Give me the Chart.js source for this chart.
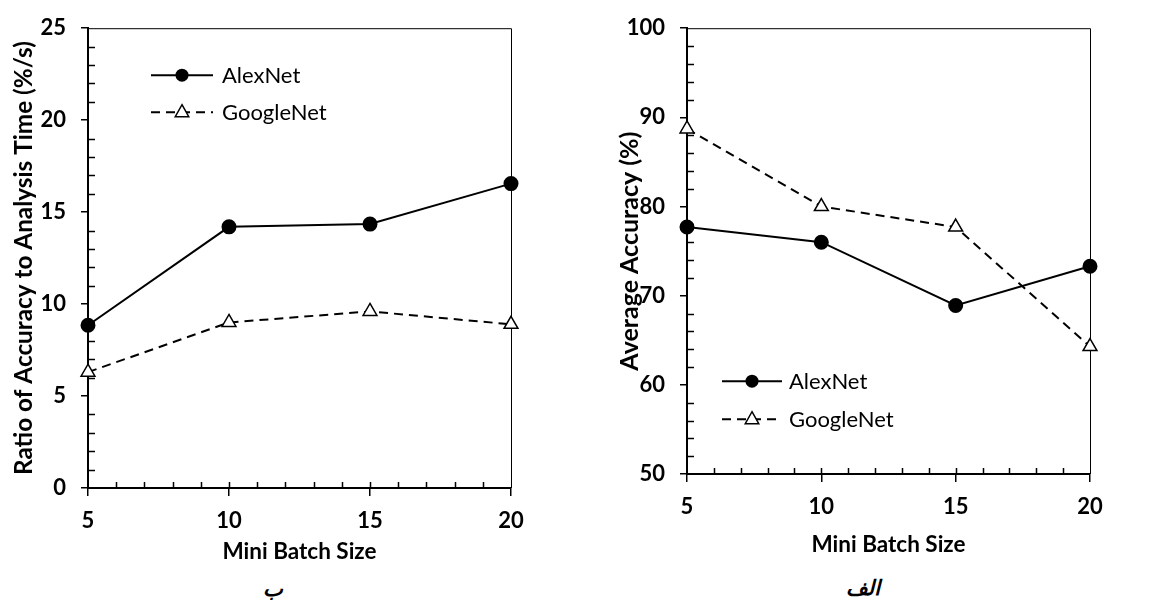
<!DOCTYPE html>
<html>
<head>
<meta charset="utf-8">
<script src="https://cdn.jsdelivr.net/npm/chart.js@4.4.1/dist/chart.umd.min.js"></script>
<style>
  html, body { margin: 0; padding: 0; background: #fff; }
  body { width: 1167px; height: 601px; position: relative; overflow: hidden; }
  .box { position: absolute; top: 0; }
  .cap { position: absolute; font-family: 'DejaVu Sans', sans-serif; font-style: italic; font-weight: bold; font-size: 21px; color: #000; transform: translateX(-50%); }
</style>
</head>
<body>
<div class="box" id="boxRatio" style="left:0;width:540px;height:570px"><canvas id="chartRatio"></canvas></div>
<div class="box" id="boxAcc" style="left:590px;width:540px;height:560px"><canvas id="chartAcc"></canvas></div>
<div class="cap" style="left:273px;top:577px">ب</div>
<div class="cap" style="left:863px;top:576px">الف</div>
<script>
// data
const batchSizes = [5, 10, 15, 20];
const seriesNames = ['AlexNet', 'GoogleNet'];
const ratioAlexNet = [8.85, 14.2, 14.35, 16.55];
const ratioGoogleNet = [6.3, 9.0, 9.6, 8.9];
const accAlexNet = [77.7, 76.0, 68.9, 73.3];
const accGoogleNet = [88.7, 80.0, 77.7, 64.3];

const FONT = 'Lato, "Open Sans", sans-serif';

function toPoints(values) {
    return batchSizes.map((b, i) => ({ x: b, y: values[i] }));
}

// minor ticks (inside) and the thin top/right frame
const frameTicks = {
    id: 'frameTicks',
    beforeDatasetsDraw(chart, args, opts) {
        const { ctx, chartArea: a, scales: { x, y } } = chart;
        ctx.save();
        ctx.strokeStyle = '#000';
        ctx.lineWidth = 1;
        ctx.beginPath();
        ctx.moveTo(a.left, a.top + 0.5);
        ctx.lineTo(a.right + 0.5, a.top + 0.5);
        ctx.lineTo(a.right + 0.5, a.bottom);
        ctx.stroke();
        ctx.lineWidth = 1.5;
        ctx.beginPath();
        for (let v = x.min + opts.xStep; v < x.max; v += opts.xStep) {
            const px = Math.round(x.getPixelForValue(v)) + 0.5;
            ctx.moveTo(px, a.bottom);
            ctx.lineTo(px, a.bottom - 6);
        }
        for (let v = y.min + opts.yStep; v < y.max; v += opts.yStep) {
            if (Math.abs(v % opts.yMajor) < 1e-6) continue;
            const py = Math.round(y.getPixelForValue(v)) + 0.5;
            ctx.moveTo(a.left, py);
            ctx.lineTo(a.left + 7, py);
        }
        ctx.stroke();
        ctx.restore();
    }
};

// legend drawn inside the plot
const insideLegend = {
    id: 'insideLegend',
    afterDraw(chart, args, opts) {
        const { ctx, chartArea: a } = chart;
        ctx.save();
        ctx.font = '22px ' + FONT;
        ctx.textBaseline = 'middle';
        chart.data.datasets.forEach((ds, i) => {
            const y0 = a.top + opts.top + i * opts.rowGap;
            const x0 = a.left + opts.left;
            const x1 = x0 + opts.lineLen;
            const xm = (x0 + x1) / 2;
            ctx.strokeStyle = '#000';
            ctx.lineWidth = 2;
            ctx.setLineDash(ds.borderDash || []);
            ctx.beginPath();
            ctx.moveTo(x0, y0);
            ctx.lineTo(x1, y0);
            ctx.stroke();
            ctx.setLineDash([]);
            if (ds.pointStyle === 'triangle') {
                const r = 7.5;
                ctx.fillStyle = '#fff';
                ctx.lineWidth = 1.5;
                ctx.beginPath();
                ctx.moveTo(xm, y0 - r);
                ctx.lineTo(xm + r * 0.9, y0 + r * 0.6);
                ctx.lineTo(xm - r * 0.9, y0 + r * 0.6);
                ctx.closePath();
                ctx.fill();
                ctx.stroke();
            } else {
                ctx.fillStyle = '#000';
                ctx.beginPath();
                ctx.arc(xm, y0, 6.5, 0, Math.PI * 2);
                ctx.fill();
            }
            ctx.fillStyle = '#000';
            ctx.fillText(ds.label, x1 + opts.textGap, y0 + 1);
        });
        ctx.restore();
    }
};

function makeChart(canvasId, cfg) {
    const datasets = [
        {
            label: seriesNames[0],
            data: toPoints(cfg.alex),
            borderColor: '#000',
            borderWidth: 2,
            pointStyle: 'circle',
            pointRadius: 6.5,
            pointBackgroundColor: '#000',
            pointBorderColor: '#000',
            tension: 0,
            clip: false
        },
        {
            label: seriesNames[1],
            data: toPoints(cfg.google),
            borderColor: '#000',
            borderWidth: 2,
            borderDash: [9, 6],
            pointStyle: 'triangle',
            pointRadius: 8,
            pointBorderWidth: 1.5,
            pointBackgroundColor: '#fff',
            pointBorderColor: '#000',
            tension: 0,
            clip: false
        }
    ];
    return new Chart(document.getElementById(canvasId), {
        type: 'line',
        data: { datasets: datasets },
        options: {
            responsive: true,
            maintainAspectRatio: false,
            animation: false,
            events: [],
            layout: { padding: { left: 0, right: cfg.padRight, top: 24, bottom: 0 } },
            plugins: {
                legend: { display: false },
                tooltip: { enabled: false },
                frameTicks: { xStep: 1, yStep: cfg.yMinor, yMajor: cfg.yStep },
                insideLegend: cfg.legend
            },
            scales: {
                x: {
                    type: 'linear',
                    min: 5,
                    max: 20,
                    afterFit: s => { s.height = cfg.xHeight; },
                    ticks: { stepSize: 5, color: '#000', padding: 12, font: { family: FONT, size: 22, weight: 'bold' } },
                    grid: { drawOnChartArea: false, drawTicks: true, tickLength: 8, color: '#000', lineWidth: 1.5 },
                    border: { display: true, color: '#000', width: 2 },
                    title: { display: true, text: 'Mini Batch Size', color: '#000', padding: { top: 0, bottom: cfg.xTitlePad }, font: { family: FONT, size: 22.5, weight: 'bold' } }
                },
                y: {
                    min: cfg.yMin,
                    max: cfg.yMax,
                    afterFit: s => { s.width = cfg.yWidth; },
                    ticks: { stepSize: cfg.yStep, color: '#000', padding: 15, font: { family: FONT, size: 22, weight: 'bold' } },
                    grid: { drawOnChartArea: false, drawTicks: true, tickLength: 7, color: '#000', lineWidth: 1.5 },
                    border: { display: true, color: '#000', width: 2 },
                    title: { display: true, text: cfg.yTitle, color: '#000', padding: { top: cfg.yTitlePad, bottom: 0 }, font: { family: FONT, size: cfg.yTitleSize, weight: 'bold' } }
                }
            }
        },
        plugins: [frameTicks, insideLegend]
    });
}

makeChart('chartRatio', {
    alex: ratioAlexNet, google: ratioGoogleNet,
    yMin: 0, yMax: 25, yStep: 5, yMinor: 1,
    yTitle: 'Ratio of Accuracy to Analysis Time (%/s)', yTitleSize: 24.3,
    yWidth: 88, yTitlePad: 10, xHeight: 82, xTitlePad: 5, padRight: 29,
    legend: { left: 63, top: 47, rowGap: 37, lineLen: 62, textGap: 9 }
});

makeChart('chartAcc', {
    alex: accAlexNet, google: accGoogleNet,
    yMin: 50, yMax: 100, yStep: 10, yMinor: 2,
    yTitle: 'Average Accuracy (%)', yTitleSize: 25,
    yWidth: 97, yTitlePad: 25, xHeight: 86, xTitlePad: 2, padRight: 40,
    legend: { left: 35, top: 353, rowGap: 38, lineLen: 60, textGap: 7 }
});
</script>
</body>
</html>
